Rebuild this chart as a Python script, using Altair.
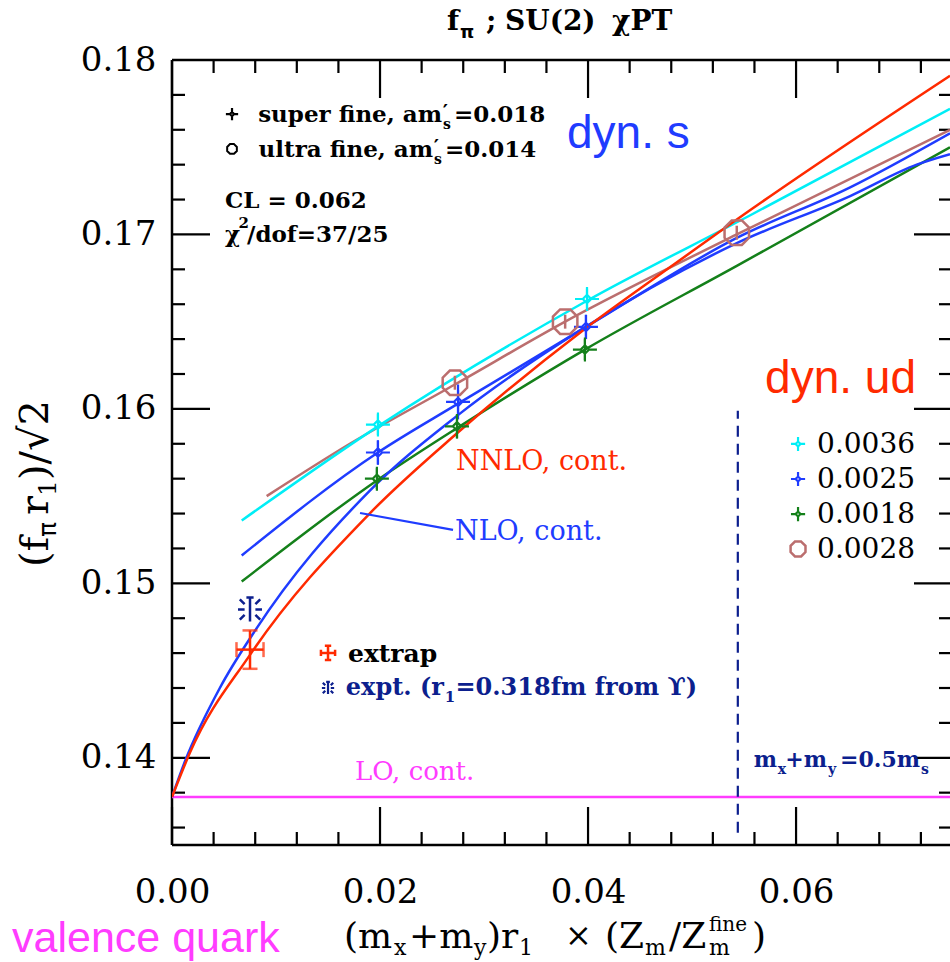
import altair as alt
import pandas as pd

SERIF = "DejaVu Serif"
SANS = "Liberation Sans"
GREEKSANS = "DejaVu Sans"

# ---------------- axis ranges ----------------
X_DOMAIN = [0.0, 0.0748]
Y_DOMAIN = [0.135, 0.18]
W, H = 778, 785

x_major = [0.0, 0.02, 0.04, 0.06]
x_minor = [0.004, 0.008, 0.012, 0.016, 0.024, 0.028, 0.032, 0.036,
           0.044, 0.048, 0.052, 0.056, 0.064, 0.068, 0.072]
y_major = [0.14, 0.15, 0.16, 0.17, 0.18]
y_minor = [0.136, 0.138, 0.142, 0.144, 0.146, 0.148, 0.152, 0.154, 0.156, 0.158,
           0.162, 0.164, 0.166, 0.168, 0.172, 0.174, 0.176, 0.178]

# ---------------- data points (ud = 0.0036, 0.0025, 0.0018 ; ultra fine 0.0028) ----------------
cyan_x = [0.0198, 0.0399]
cyan_y = [0.1591, 0.1663]
cyan_err = [0.0006, 0.0006]

blue_x = [0.0198, 0.0275, 0.0398]
blue_y = [0.1575, 0.1604, 0.1647]
blue_err = [0.0007, 0.0010, 0.0007]

green_x = [0.0197, 0.0274, 0.0397]
green_y = [0.1560, 0.1590, 0.1634]
green_err = [0.0006, 0.0007, 0.0006]

brown_x = [0.0272, 0.0378, 0.0543]
brown_y = [0.1615, 0.1650, 0.1701]
brown_err = [0.0004, 0.0004, 0.0004]

extrap_x = [0.0075]
extrap_y = [0.1462]
extrap_xerr = [0.0013]
extrap_yerr = [0.0011]

expt_x = [0.0075]
expt_y = [0.1485]

# ---------------- fit curves ----------------
nnlo_x = [0.0, 0.00173, 0.0075, 0.0190, 0.0274, 0.0395, 0.0476, 0.0556, 0.0748]
nnlo_y = [0.13775, 0.1403, 0.1459, 0.1540, 0.1586, 0.1645, 0.1680, 0.1714, 0.1791]

nlo_x = [0.0, 0.00125, 0.0046, 0.0080, 0.0190, 0.0274, 0.0395, 0.0543, 0.0652, 0.0716, 0.0748]
nlo_y = [0.13775, 0.1398, 0.1440, 0.1473, 0.1553, 0.1596, 0.1646, 0.1695, 0.1722, 0.1740, 0.1746]

cyan_fit_x = [0.0067, 0.0198, 0.0399, 0.0556, 0.0748]
cyan_fit_y = [0.1536, 0.1590, 0.1662, 0.1711, 0.1772]

blue_fit_x = [0.0067, 0.0198, 0.0275, 0.0398, 0.0543, 0.0652, 0.0748]
blue_fit_y = [0.1516, 0.1575, 0.1603, 0.1647, 0.1698, 0.1727, 0.1758]

green_fit_x = [0.0067, 0.0197, 0.0274, 0.0397, 0.0543, 0.0748]
green_fit_y = [0.1501, 0.1559, 0.1589, 0.1634, 0.1682, 0.1750]

brown_fit_x = [0.0091, 0.0171, 0.0272, 0.0378, 0.0543, 0.0748]
brown_fit_y = [0.1550, 0.1580, 0.1614, 0.1650, 0.1700, 0.1760]

lo_x = [0.0, 0.0748]
lo_y = [0.13775, 0.13775]

ms_x = [0.0544]
ms_y = [0.1357]
ms_y2 = [0.1599]

nlo_pointer_x = [0.01808, 0.02702]
nlo_pointer_y = [0.15403, 0.15306]

# legend (right)
leg_labels = ["0.0036", "0.0025", "0.0018", "0.0028"]
leg_sym_x = 0.06019
leg_sym_y = [0.15799, 0.15598, 0.15397, 0.15197]
leg_txt_x = 0.06202
leg_txt_y = [0.15747, 0.15547, 0.15346, 0.15145]

# ---------------- colours ----------------
CYAN = "#00eef6"
BLUE = "#1f3cff"
GREEN = "#14801a"
BROWN = "#bb6e6e"
RED = "#ff2a00"
MAG = "#ff3cff"
NAVY = "#0c1f8e"

STAR = "M-1,0L-0.35,0M0.35,0L1,0M0,-1L0,-0.35M0,0.35L0,1M0,-0.35L0.35,0L0,0.35L-0.35,0Z"
OCT = ("M0.383,-0.924L0.924,-0.383L0.924,0.383L0.383,0.924L-0.383,0.924"
       "L-0.924,0.383L-0.924,-0.383L-0.383,-0.924Z")
BURST = ("M0,-1L0,1M-0.3,-1L0.3,-1M-1,0L-0.45,0M0.45,0L1,0"
         "M-0.85,-0.85L-0.45,-0.45M0.45,0.45L0.85,0.85M-0.85,0.85L-0.45,0.45M0.45,-0.45L0.85,-0.85")
CAPCROSS = "M-1,0L1,0M0,-1L0,1M-0.45,-1L0.45,-1M-0.45,1L0.45,1M-1,-0.45L-1,0.45M1,-0.45L1,0.45"

xs = alt.Scale(domain=X_DOMAIN, nice=False, zero=False)
ys = alt.Scale(domain=Y_DOMAIN, nice=False, zero=False)
xaxis = alt.Axis(values=x_major, format=".2f", ticks=False, domain=False, grid=False,
                 labelFont=SERIF, labelFontSize=34, labelPadding=30, labelFlush=False,
                 labelColor="black", title=None)
yaxis = alt.Axis(values=y_major, format=".2f", ticks=False, domain=False, grid=False,
                 labelFont=SERIF, labelFontSize=34, labelPadding=16, labelFlush=False,
                 labelColor="black", title=None)


def X(f="x"):
    return alt.X(f"{f}:Q", scale=xs, axis=xaxis)


def Y(f="y"):
    return alt.Y(f"{f}:Q", scale=ys, axis=yaxis)


layers = []


def curve(xv, yv, color, width=2.5):
    df = pd.DataFrame({"x": xv, "y": yv})
    return alt.Chart(df).mark_line(color=color, strokeWidth=width, interpolate="monotone",
                                   clip=True).encode(x=X(), y=Y())


def points(xv, yv, ev, color, shape, size, sw=2.2):
    df = pd.DataFrame({"x": xv, "y": yv, "lo": [a - b for a, b in zip(yv, ev)],
                       "hi": [a + b for a, b in zip(yv, ev)]})
    bars = alt.Chart(df).mark_rule(color=color, strokeWidth=sw).encode(
        x=X(), y=Y("lo"), y2="hi:Q")
    sym = alt.Chart(df).mark_point(shape=shape, size=size, filled=False, color=color,
                                   strokeWidth=sw, opacity=1).encode(x=X(), y=Y())
    return [bars, sym]


def sym(xv, yv, color, shape, size, sw=2.0):
    df = pd.DataFrame({"x": xv, "y": yv})
    return alt.Chart(df).mark_point(shape=shape, size=size, filled=False, color=color,
                                    strokeWidth=sw, opacity=1).encode(x=X(), y=Y())


def dtext(xv, yv, t, align="left", size=22, weight="normal", color="black", font=SERIF):
    df = pd.DataFrame({"x": xv, "y": yv, "t": t})
    return alt.Chart(df).mark_text(align=align, baseline="alphabetic", font=font,
                                   fontSize=size, fontWeight=weight, color=color).encode(
        x=X(), y=Y(), text="t:N")


def ptext(t, px, py, size=22, weight="normal", color="black", font=SERIF, angle=0,
          align="left"):
    df = pd.DataFrame({"t": [t]})
    return alt.Chart(df).mark_text(align=align, baseline="alphabetic", font=font,
                                   fontSize=size, fontWeight=weight, color=color,
                                   angle=angle).encode(
        x=alt.value(px), y=alt.value(py), text="t:N")


# ---- frame & ticks ----
frame_df = pd.DataFrame({"x": [0.0]})
layers.append(alt.Chart(frame_df).mark_rule(color="black", strokeWidth=2.5).encode(
    x=alt.value(0), y=alt.value(0), y2=alt.value(H)))
layers.append(alt.Chart(frame_df).mark_rule(color="black", strokeWidth=2.5).encode(
    x=alt.value(0), x2=alt.value(W + 2), y=alt.value(0)))
layers.append(alt.Chart(frame_df).mark_rule(color="black", strokeWidth=2.5).encode(
    x=alt.value(0), x2=alt.value(W + 2), y=alt.value(H)))

for vals, L in ((x_major, 38), (x_minor, 13)):
    df = pd.DataFrame({"x": vals})
    layers.append(alt.Chart(df).mark_rule(color="black", strokeWidth=2.2).encode(
        x=X(), y=alt.value(H), y2=alt.value(H - L)))
    layers.append(alt.Chart(df).mark_rule(color="black", strokeWidth=2.2).encode(
        x=X(), y=alt.value(0), y2=alt.value(L)))
for vals, L in ((y_major, 38), (y_minor, 13)):
    df = pd.DataFrame({"y": vals})
    layers.append(alt.Chart(df).mark_rule(color="black", strokeWidth=2.2).encode(
        y=Y(), x=alt.value(0), x2=alt.value(L)))
    layers.append(alt.Chart(df).mark_rule(color="black", strokeWidth=2.2).encode(
        y=Y(), x=alt.value(W + 2 - L), x2=alt.value(W + 2)))

# ---- reference lines ----
layers.append(curve(lo_x, lo_y, MAG, 2.5))
ms_df = pd.DataFrame({"x": ms_x, "y": ms_y, "y2": ms_y2})
layers.append(alt.Chart(ms_df).mark_rule(color=NAVY, strokeWidth=2.2, strokeDash=[11, 7]).encode(
    x=X(), y=Y(), y2="y2:Q"))

# ---- fits ----
layers.append(curve(green_fit_x, green_fit_y, GREEN))
layers.append(curve(brown_fit_x, brown_fit_y, BROWN))
layers.append(curve(cyan_fit_x, cyan_fit_y, CYAN))
layers.append(curve(blue_fit_x, blue_fit_y, BLUE))
layers.append(curve(nlo_x, nlo_y, BLUE))
layers.append(curve(nnlo_x, nnlo_y, RED))
layers.append(curve(nlo_pointer_x, nlo_pointer_y, BLUE, 2.2))

# ---- data points ----
layers += points(cyan_x, cyan_y, cyan_err, CYAN, STAR, 576)
layers += points(blue_x, blue_y, blue_err, BLUE, STAR, 576)
layers += points(green_x, green_y, green_err, GREEN, STAR, 576)
layers += points(brown_x, brown_y, brown_err, BROWN, OCT, 700, 2.5)

# extrapolated point with capped error bars
ex_df = pd.DataFrame({"x": extrap_x, "y": extrap_y,
                      "xlo": [a - b for a, b in zip(extrap_x, extrap_xerr)],
                      "xhi": [a + b for a, b in zip(extrap_x, extrap_xerr)],
                      "ylo": [a - b for a, b in zip(extrap_y, extrap_yerr)],
                      "yhi": [a + b for a, b in zip(extrap_y, extrap_yerr)]})
layers.append(alt.Chart(ex_df).mark_rule(color=RED, strokeWidth=2.5).encode(
    x=X(), y=Y("ylo"), y2="yhi:Q"))
layers.append(alt.Chart(ex_df).mark_rule(color=RED, strokeWidth=2.5).encode(
    x=X("xlo"), x2="xhi:Q", y=Y()))
for f in ("ylo", "yhi"):
    layers.append(alt.Chart(ex_df).mark_tick(color=RED, thickness=2.5, size=15,
                                             orient="horizontal").encode(x=X(), y=Y(f)))
for f in ("xlo", "xhi"):
    layers.append(alt.Chart(ex_df).mark_tick(color=RED, thickness=2.5, size=15,
                                             orient="vertical").encode(x=X(f), y=Y()))
layers.append(sym(expt_x, expt_y, NAVY, BURST, 576, 2.5))

# ---- in-plot legend (upper left) ----
layers.append(sym([0.00577], [0.17690], "black", STAR, 150, 2.2))
layers.append(sym([0.00577], [0.17490], "black", OCT, 110, 2.0))
layers.append(dtext([0.02596, 0.02510], [0.17645, 0.17444],
                    ["super fine, am", "ultra fine, am"], align="right", size=23, weight="bold"))
layers.append(dtext([0.02712, 0.02625], [0.17645, 0.17444],
                    ["=0.018", "=0.014"], size=23, weight="bold"))
layers.append(dtext([0.02603, 0.02516], [0.17660, 0.17459], ["′", "′"], size=20, weight="bold"))
layers.append(dtext([0.02606, 0.02519], [0.17604, 0.17403], ["s", "s"], size=14, weight="bold"))
layers.append(dtext([0.00510, 0.00510], [0.17152, 0.16957], ["CL = 0.062", "χ"], size=23,
                    weight="bold"))
layers.append(dtext([0.00640], [0.17035], ["2"], size=15, weight="bold"))
layers.append(dtext([0.00721], [0.16957], ["/dof=37/25"], size=23, weight="bold"))

# ---- big labels ----
layers.append(dtext([0.03798], [0.17496], ["dyn. s"], size=46, color=BLUE, font=SANS))
layers.append(dtext([0.05702], [0.16091], ["dyn. ud"], size=46, color=RED, font=SANS))
layers.append(dtext([0.02731], [0.15650], ["NNLO, cont."], size=27, color=RED))
layers.append(dtext([0.02721], [0.15248], ["NLO, cont."], size=27, color=BLUE))
layers.append(dtext([0.0176], [0.13873], ["LO, cont."], size=26, color=MAG))

# ---- right legend ----
leg_colors = [CYAN, BLUE, GREEN]
for i, c in enumerate(leg_colors):
    layers.append(sym([leg_sym_x], [leg_sym_y[i]], c, STAR, 200, 2.2))
layers.append(sym([leg_sym_x], [leg_sym_y[3]], BROWN, OCT, 260, 2.5))
layers.append(dtext([leg_txt_x] * 4, leg_txt_y, leg_labels, size=28))

# ---- extrap / expt legend ----
layers.append(sym([0.0150], [0.14601], RED, CAPCROSS, 200, 2.5))
layers.append(sym([0.0150], [0.14400], NAVY, BURST, 150, 2.2))
layers.append(dtext([0.01692], [0.14549], ["extrap"], size=25, weight="bold"))
layers.append(dtext([0.02615], [0.14360], ["expt. (r"], align="right", size=24, weight="bold",
                    color=NAVY))
layers.append(dtext([0.02622], [0.14318], ["1"], size=15, weight="bold", color=NAVY))
layers.append(dtext([0.02725], [0.14360], ["=0.318fm from ϒ)"], size=24, weight="bold",
                    color=NAVY))

# ---- m_x + m_y = 0.5 m_s ----
layers.append(dtext([0.05817, 0.06298, 0.07192], [0.13947] * 3, ["m", "+m", "=0.5m"],
                    align="right", size=22, weight="bold", color=NAVY))
layers.append(dtext([0.05825, 0.06306, 0.07200], [0.13905] * 3, ["x", "y", "s"],
                    size=14, weight="bold", color=NAVY))

# ---- title (outside plot, pixel positions relative to plot origin) ----
layers.append(ptext("f", 275, -30, size=28, weight="bold"))
layers.append(ptext("π", 288, -22, size=18, weight="bold", font=GREEKSANS))
layers.append(ptext(";", 314, -30, size=28, weight="bold"))
layers.append(ptext("SU(2)", 333, -30, size=28, weight="bold"))
layers.append(ptext("χPT", 440, -30, size=28, weight="bold"))

# ---- x axis title ----
xt_pieces = [("(m", 172, 888, 36), ("x", 222, 895, 22), ("+m", 237, 888, 36),
             ("y", 302, 895, 22), (")r", 315, 888, 36), ("1", 347, 895, 22),
             ("×", 393, 886, 32), ("(Z", 433, 888, 36), ("m", 473, 895, 22),
             ("/Z", 497, 888, 36), ("m", 537, 895, 22), ("fine", 537, 871, 20),
             (")", 580, 888, 36)]
for t, px, py, s in xt_pieces:
    layers.append(ptext(t, px, py, size=s))

layers.append(ptext("valence quark", -160, 892, size=43, color=MAG, font=SANS))

# ---- y axis title (rotated) ----
yt_pieces = [("(f", -124, 507, 40, SERIF), ("π", -116, 477, 25, GREEKSANS),
             ("r", -124, 455, 40, SERIF), ("1", -116, 436, 25, SERIF),
             (")/√2", -124, 420, 40, SERIF)]
for t, px, py, s, fnt in yt_pieces:
    layers.append(ptext(t, px, py, size=s, angle=270, font=fnt))

chart = alt.layer(*layers).properties(
    width=W, height=H,
    padding={"left": 172, "top": 60, "right": 0, "bottom": 117},
    autosize=alt.AutoSizeParams(type="none"),
    background="white",
).configure_view(stroke=None)

chart.save("out.html", embed_options={"renderer": "svg", "actions": False})
